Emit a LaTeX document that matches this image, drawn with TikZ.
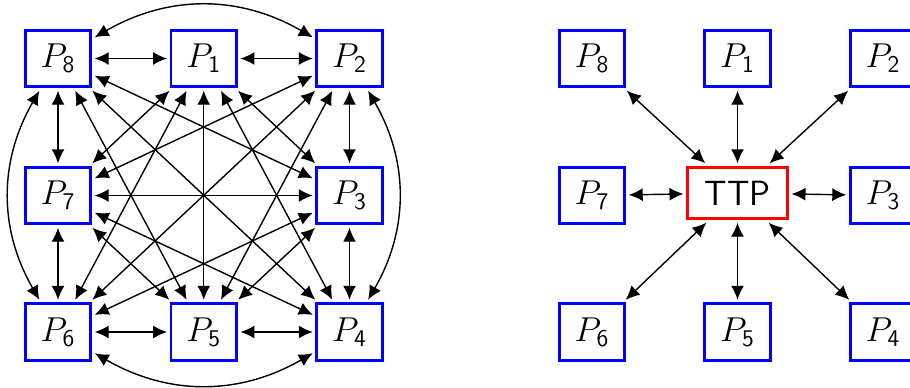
\documentclass[tikz,border=0pt]{standalone}
\usepackage{amsmath}
\usepackage{xcolor}
\usepackage{tikz}
\usetikzlibrary{arrows.meta}

\begin{document}
\begin{tikzpicture}[
  x=0.5pt, y=-0.5pt,
  font=\fontsize{17.5}{21}\selectfont,
  party/.style={draw=blue, line width=1.35pt, minimum width=32.7pt, minimum height=28.2pt, inner sep=1pt, outer sep=2pt},
  ttp/.style={draw=red, line width=1.35pt, minimum width=50pt, minimum height=25.7pt, inner sep=1pt, outer sep=2pt, font=\fontsize{17.5}{21}\selectfont\sffamily},
  arr/.style={{Latex[length=7pt,width=6.5pt]}-{Latex[length=7pt,width=6.5pt]}, line width=0.7pt},
]
\useasboundingbox (0,0) rectangle (910,387);
% left: every party talks to every other
\node[party] (p8) at (58,58.5) {$P_{\mathsf{8}}$};
\node[party] (p1) at (203.75,58.5) {$P_{\mathsf{1}}$};
\node[party] (p2) at (349.5,58.5) {$P_{\mathsf{2}}$};
\node[party] (p7) at (58,195.5) {$P_{\mathsf{7}}$};
\node[party] (p3) at (349.5,195.5) {$P_{\mathsf{3}}$};
\node[party] (p6) at (58,332) {$P_{\mathsf{6}}$};
\node[party] (p5) at (203.75,332) {$P_{\mathsf{5}}$};
\node[party] (p4) at (349.5,332) {$P_{\mathsf{4}}$};
\draw[arr] (p8) -- (p1);
\draw[arr] (p1) -- (p2);
\draw[arr] (p2) -- (p3);
\draw[arr] (p3) -- (p4);
\draw[arr] (p4) -- (p5);
\draw[arr] (p5) -- (p6);
\draw[arr] (p6) -- (p7);
\draw[arr] (p7) -- (p8);
\draw[arr] (p8) to[bend left=30] (p2);
\draw[arr] (p2) to[bend left=30] (p4);
\draw[arr] (p4) to[bend left=30] (p6);
\draw[arr] (p6) to[bend left=30] (p8);
\draw[arr] (p1) -- (p3);
\draw[arr] (p1) -- (p4);
\draw[arr] (p1) -- (p5);
\draw[arr] (p1) -- (p6);
\draw[arr] (p1) -- (p7);
\draw[arr] (p2) -- (p5);
\draw[arr] (p2) -- (p6);
\draw[arr] (p2) -- (p7);
\draw[arr] (p3) -- (p5);
\draw[arr] (p3) -- (p6);
\draw[arr] (p3) -- (p7);
\draw[arr] (p3) -- (p8);
\draw[arr] (p4) -- (p7);
\draw[arr] (p4) -- (p8);
\draw[arr] (p5) -- (p7);
\draw[arr] (p5) -- (p8);
% right: everyone goes through the trusted party
\node[ttp] (ttp) at (737.5,193) {TTP};
\node[party] (q8) at (592,58.5) {$P_{\mathsf{8}}$};
\node[party] (q1) at (737.5,58.5) {$P_{\mathsf{1}}$};
\node[party] (q2) at (883,58.5) {$P_{\mathsf{2}}$};
\node[party] (q7) at (592,195.5) {$P_{\mathsf{7}}$};
\node[party] (q3) at (883,195.5) {$P_{\mathsf{3}}$};
\node[party] (q6) at (592,332) {$P_{\mathsf{6}}$};
\node[party] (q5) at (737.5,332) {$P_{\mathsf{5}}$};
\node[party] (q4) at (883,332) {$P_{\mathsf{4}}$};
\draw[arr] (ttp) -- (q1);
\draw[arr] (ttp) -- (q2);
\draw[arr] (ttp) -- (q3);
\draw[arr] (ttp) -- (q4);
\draw[arr] (ttp) -- (q5);
\draw[arr] (ttp) -- (q6);
\draw[arr] (ttp) -- (q7);
\draw[arr] (ttp) -- (q8);
\end{tikzpicture}
\end{document}
